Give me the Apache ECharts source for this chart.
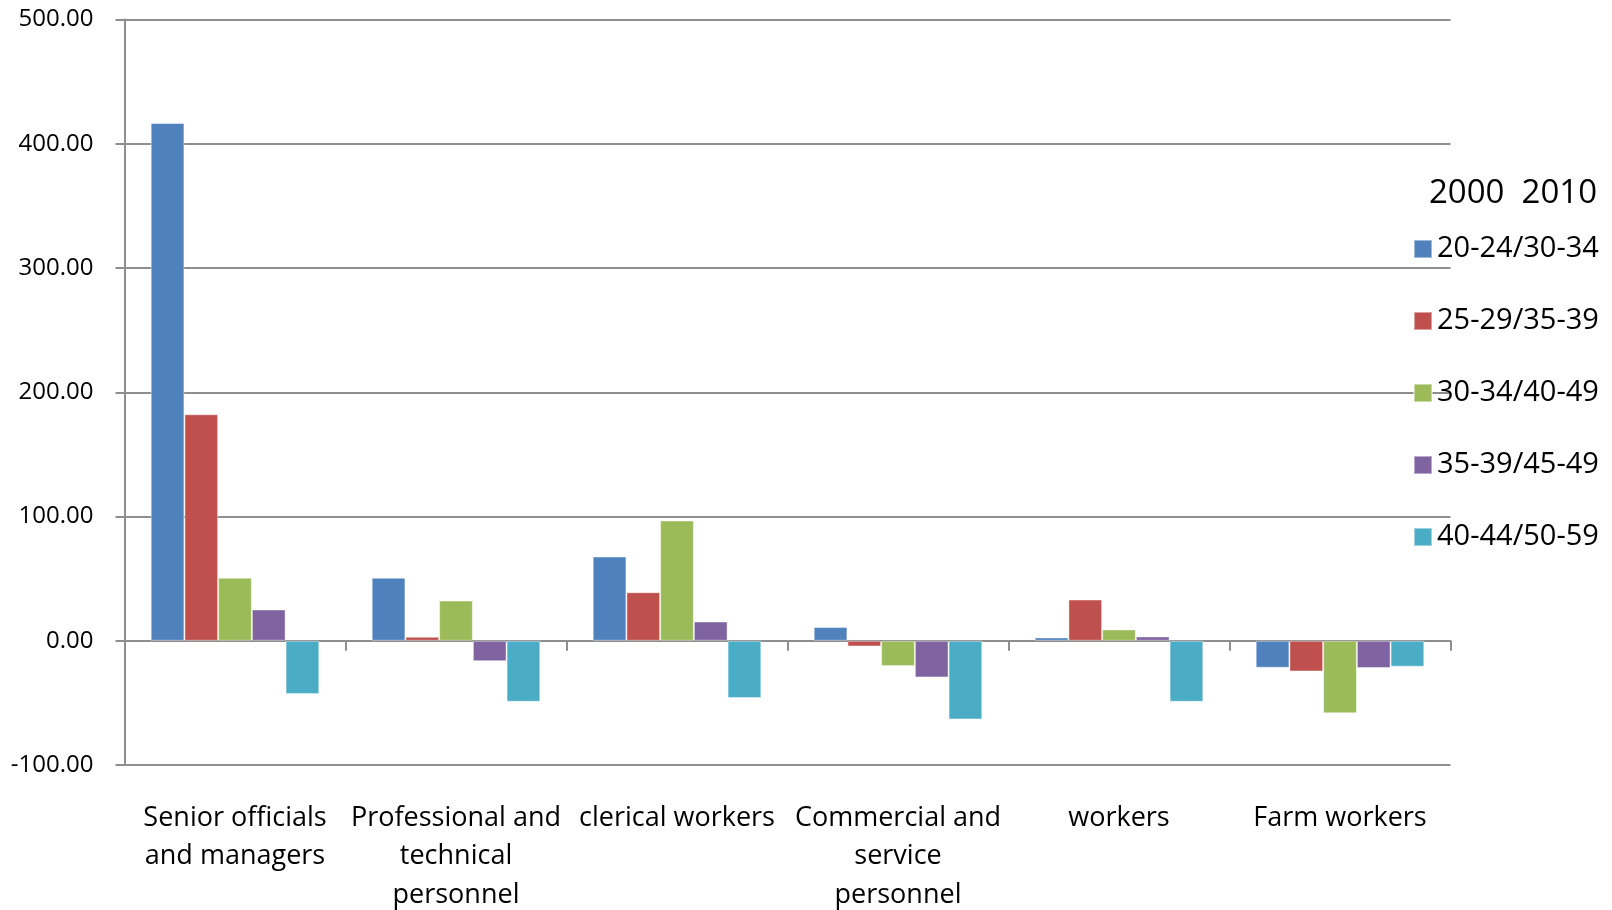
<!DOCTYPE html>
<html>
<head>
<meta charset="utf-8">
<script src="https://cdn.jsdelivr.net/npm/echarts@6/dist/echarts.min.js"></script>
<style>
html,body{margin:0;padding:0;background:#fff;}
#chart{width:1612px;height:910px;}
</style>
</head>
<body>
<div id="chart"></div>
<script>
const categories = [
  "Senior officials\nand managers",
  "Professional and\ntechnical\npersonnel",
  "clerical workers",
  "Commercial and\nservice\npersonnel",
  "workers",
  "Farm workers"
];
const seriesNames = ["20-24/30-34", "25-29/35-39", "30-34/40-49", "35-39/45-49", "40-44/50-59"];
const s1 = [416.7, 50.7, 67.8, 11.0, 2.7, -21.7];
const s2 = [182.3, 3.2, 39.1, -4.6, 33.2, -24.7];
const s3 = [50.7, 32.4, 96.8, -20.4, 9.1, -58.4];
const s4 = [25.2, -16.4, 15.5, -29.5, 3.5, -22.0];
const s5 = [-42.9, -49.1, -46.1, -63.3, -49.1, -20.9];
const legendTitle = "2000  2010";
const yMin = -100, yMax = 500, yStep = 100;

const colors = ["#4F81BD", "#C0504D", "#9BBB59", "#8064A2", "#4BACC6"];
const allData = [s1, s2, s3, s4, s5];
const gridColor = "#8e8e8e";

const chart = echarts.init(document.getElementById('chart'));
chart.setOption({
  animation: false,
  color: colors,
  title: {
    text: legendTitle,
    left: 1424,
    top: 172,
    textStyle: {fontFamily: "Open Sans", fontSize: 33, fontWeight: "normal", color: "#000"}
  },
  legend: {
    orient: "vertical",
    left: 1408,
    top: 229,
    itemWidth: 18,
    itemHeight: 18,
    itemGap: 42,
    itemTextGap: 8,
    icon: "rect",
    data: seriesNames,
    textStyle: {fontFamily: "Open Sans", fontSize: 29, color: "#000", lineHeight: 30}
  },
  grid: {left: 124.5, right: 1612 - 1450.5, top: 19.5, bottom: 910 - 765, containLabel: false, outerBoundsMode: "none"},
  xAxis: [
    {
      type: "category",
      data: categories,
      position: "bottom",
      axisLine: {show: true, onZero: true, lineStyle: {color: gridColor, width: 2}},
      axisTick: {show: true, length: 10, lineStyle: {color: gridColor, width: 2}},
      axisLabel: {show: false},
      splitLine: {show: false}
    },
    {
      type: "category",
      data: categories,
      position: "bottom",
      axisLine: {show: false, onZero: false},
      axisTick: {show: false},
      axisLabel: {
        show: true, interval: 0, margin: 34,
        fontFamily: "Open Sans", fontSize: 27, lineHeight: 38.5, color: "#000", align: "center"
      },
      splitLine: {show: false}
    }
  ],
  yAxis: {
    type: "value",
    min: yMin, max: yMax, interval: yStep,
    axisLine: {show: true, lineStyle: {color: gridColor, width: 2}},
    axisTick: {show: true, length: 9, lineStyle: {color: gridColor, width: 2}},
    axisLabel: {
      margin: 31, fontFamily: "Open Sans", fontSize: 24, color: "#000",
      padding: [4, 0, 0, 0],
      formatter: v => v.toFixed(2)
    },
    splitLine: {show: true, lineStyle: {color: gridColor, width: 2}}
  },
  series: seriesNames.map((n, i) => ({
    name: n,
    type: "bar",
    xAxisIndex: 0,
    data: allData[i],
    barGap: "0%",
    barCategoryGap: "23.7%",
    itemStyle: {color: colors[i], borderColor: "rgba(255,255,255,0.45)", borderWidth: 1}
  }))
});
</script>
</body>
</html>
